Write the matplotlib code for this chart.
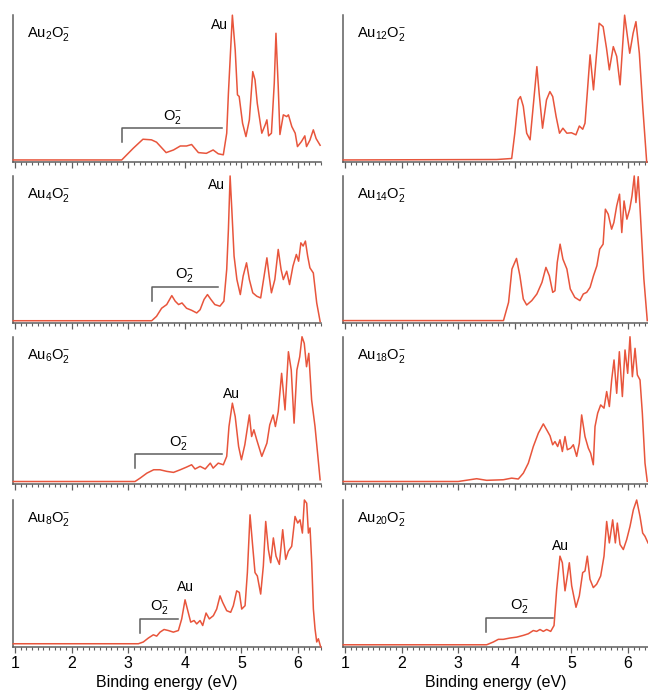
import matplotlib
matplotlib.use('Agg')
import matplotlib.pyplot as plt
from matplotlib.ticker import MultipleLocator

plt.rcParams['font.family'] = ['Liberation Sans', 'DejaVu Sans']
plt.rcParams['mathtext.fontset'] = 'custom'
plt.rcParams['mathtext.rm'] = 'Liberation Sans'
plt.rcParams['mathtext.it'] = 'Liberation Sans:italic'

# binding energy (eV) and normalised intensity
e_au2 = [0.97, 2.885, 3.09, 3.26, 3.41, 3.50, 3.67, 3.80, 3.92, 4.03, 4.12, 4.24, 4.38, 4.50, 4.59, 4.68,
         4.74, 4.77, 4.84, 4.89, 4.93, 4.96, 5.02, 5.08, 5.14, 5.20, 5.24, 5.28, 5.36, 5.42, 5.45, 5.48,
         5.53, 5.58, 5.61, 5.65, 5.68, 5.74, 5.80, 5.83, 5.89, 5.95, 5.99, 6.06, 6.12, 6.15, 6.21, 6.27,
         6.32, 6.39]
i_au2 = [0.015, 0.015, 0.095, 0.156, 0.152, 0.136, 0.065, 0.083, 0.11, 0.11, 0.12, 0.065, 0.06, 0.083,
         0.057, 0.05, 0.197, 0.469, 1.0, 0.764, 0.458, 0.447, 0.265, 0.174, 0.288, 0.616, 0.56, 0.40,
         0.197, 0.254, 0.288, 0.179, 0.197, 0.537, 0.877, 0.514, 0.188, 0.322, 0.31, 0.322, 0.242, 0.197,
         0.106, 0.14, 0.179, 0.106, 0.15, 0.22, 0.16, 0.115]

e_au4 = [0.97, 3.415, 3.50, 3.59, 3.68, 3.77, 3.83, 3.89, 3.95, 4.03, 4.12, 4.21, 4.27, 4.34, 4.40, 4.46,
         4.53, 4.62, 4.69, 4.74, 4.77, 4.80, 4.83, 4.87, 4.92, 4.98, 5.03, 5.09, 5.14, 5.20, 5.27, 5.34,
         5.40, 5.45, 5.49, 5.53, 5.59, 5.65, 5.70, 5.74, 5.80, 5.85, 5.91, 5.97, 6.01, 6.05, 6.09, 6.13,
         6.17, 6.21, 6.27, 6.33, 6.39]
i_au4 = [0.015, 0.015, 0.045, 0.10, 0.125, 0.186, 0.148, 0.125, 0.136, 0.10, 0.086, 0.068, 0.09, 0.16,
         0.193, 0.16, 0.125, 0.114, 0.148, 0.364, 0.636, 1.0, 0.773, 0.455, 0.295, 0.193, 0.318, 0.409,
         0.295, 0.205, 0.182, 0.17, 0.318, 0.443, 0.318, 0.205, 0.295, 0.50, 0.364, 0.295, 0.352, 0.261,
         0.386, 0.466, 0.42, 0.545, 0.523, 0.557, 0.455, 0.375, 0.34, 0.136, 0.01]

e_au6 = [0.97, 3.12, 3.21, 3.33, 3.45, 3.56, 3.68, 3.80, 3.92, 4.03, 4.12, 4.18, 4.27, 4.36, 4.45, 4.50,
         4.59, 4.68, 4.74, 4.78, 4.84, 4.89, 4.95, 5.00, 5.06, 5.14, 5.18, 5.22, 5.27, 5.36, 5.45, 5.50,
         5.56, 5.60, 5.65, 5.71, 5.77, 5.83, 5.88, 5.93, 5.98, 6.03, 6.07, 6.11, 6.15, 6.19, 6.24, 6.30,
         6.39]
i_au6 = [0.015, 0.015, 0.038, 0.072, 0.095, 0.095, 0.084, 0.077, 0.095, 0.113, 0.129, 0.10, 0.118, 0.10,
         0.14, 0.106, 0.14, 0.129, 0.186, 0.389, 0.548, 0.457, 0.253, 0.163, 0.265, 0.468, 0.321, 0.367,
         0.299, 0.186, 0.276, 0.40, 0.468, 0.389, 0.491, 0.751, 0.502, 0.898, 0.774, 0.412, 0.774, 0.864,
         1.0, 0.955, 0.796, 0.887, 0.57, 0.389, 0.027]

e_au8 = [0.97, 3.179, 3.267, 3.356, 3.444, 3.503, 3.562, 3.633, 3.709, 3.797, 3.886, 3.945, 4.004, 4.045,
         4.104, 4.163, 4.21, 4.269, 4.316, 4.375, 4.433, 4.504, 4.563, 4.622, 4.669, 4.74, 4.81, 4.857,
         4.916, 4.963, 5.005, 5.064, 5.105, 5.152, 5.199, 5.24, 5.281, 5.34, 5.387, 5.429, 5.476, 5.517,
         5.564, 5.611, 5.67, 5.729, 5.782, 5.829, 5.888, 5.947, 5.994, 6.035, 6.077, 6.112, 6.153, 6.183,
         6.212, 6.242, 6.271, 6.3, 6.33, 6.359, 6.4]
i_au8 = [0.022, 0.022, 0.034, 0.061, 0.083, 0.074, 0.101, 0.119, 0.112, 0.101, 0.112, 0.191, 0.321, 0.258,
         0.169, 0.18, 0.157, 0.18, 0.146, 0.231, 0.191, 0.213, 0.258, 0.348, 0.303, 0.247, 0.236, 0.281,
         0.382, 0.371, 0.258, 0.281, 0.506, 0.899, 0.685, 0.506, 0.483, 0.36, 0.551, 0.854, 0.663, 0.573,
         0.742, 0.618, 0.562, 0.798, 0.596, 0.652, 0.685, 0.888, 0.843, 0.865, 0.775, 1.0, 0.978, 0.775,
         0.81, 0.573, 0.258, 0.124, 0.034, 0.056, 0.0]

e_au12 = [0.97, 3.68, 3.945, 4.0, 4.06, 4.10, 4.15, 4.21, 4.27, 4.33, 4.39, 4.43, 4.49, 4.56, 4.62, 4.67,
          4.73, 4.79, 4.85, 4.92, 5.00, 5.08, 5.14, 5.20, 5.24, 5.28, 5.33, 5.39, 5.45, 5.49, 5.56, 5.62,
          5.67, 5.74, 5.80, 5.86, 5.90, 5.94, 5.99, 6.03, 6.09, 6.14, 6.20, 6.26, 6.33]
i_au12 = [0.015, 0.018, 0.025, 0.197, 0.424, 0.446, 0.38, 0.197, 0.152, 0.40, 0.65, 0.469, 0.231, 0.424,
          0.48, 0.446, 0.31, 0.197, 0.231, 0.197, 0.2, 0.186, 0.246, 0.224, 0.265, 0.469, 0.73, 0.492,
          0.764, 0.945, 0.922, 0.775, 0.628, 0.786, 0.72, 0.526, 0.764, 1.0, 0.854, 0.741, 0.877, 0.956,
          0.741, 0.378, 0.0]

e_au14 = [0.97, 3.80, 3.89, 3.95, 4.03, 4.09, 4.15, 4.21, 4.30, 4.39, 4.48, 4.55, 4.61, 4.67, 4.71, 4.75,
          4.80, 4.85, 4.92, 4.98, 5.06, 5.15, 5.21, 5.27, 5.33, 5.39, 5.45, 5.50, 5.56, 5.60, 5.65, 5.71,
          5.75, 5.80, 5.85, 5.89, 5.93, 5.98, 6.03, 6.07, 6.11, 6.14, 6.18, 6.22, 6.28, 6.34]
i_au14 = [0.016, 0.016, 0.14, 0.367, 0.439, 0.321, 0.163, 0.122, 0.152, 0.197, 0.276, 0.378, 0.321, 0.208,
          0.219, 0.412, 0.536, 0.434, 0.367, 0.231, 0.174, 0.152, 0.197, 0.208, 0.242, 0.321, 0.389, 0.502,
          0.536, 0.774, 0.74, 0.638, 0.683, 0.796, 0.876, 0.615, 0.83, 0.706, 0.774, 0.864, 1.0, 0.819,
          0.995, 0.728, 0.30, 0.016]

e_au18 = [0.97, 3.0, 3.326, 3.503, 3.797, 3.945, 4.062, 4.151, 4.239, 4.327, 4.416, 4.504, 4.563, 4.622,
          4.669, 4.71, 4.757, 4.798, 4.84, 4.887, 4.928, 4.987, 5.034, 5.093, 5.14, 5.181, 5.24, 5.299,
          5.34, 5.387, 5.417, 5.464, 5.517, 5.576, 5.623, 5.67, 5.711, 5.753, 5.8, 5.847, 5.9, 5.947,
          5.994, 6.035, 6.077, 6.124, 6.165, 6.212, 6.253, 6.3, 6.34]
i_au18 = [0.015, 0.015, 0.034, 0.023, 0.027, 0.038, 0.032, 0.072, 0.14, 0.253, 0.344, 0.407, 0.367, 0.326,
          0.265, 0.287, 0.253, 0.299, 0.219, 0.321, 0.231, 0.242, 0.265, 0.186, 0.276, 0.468, 0.321, 0.242,
          0.208, 0.129, 0.389, 0.48, 0.536, 0.514, 0.627, 0.525, 0.706, 0.842, 0.615, 0.898, 0.593, 0.91,
          0.751, 1.0, 0.728, 0.921, 0.74, 0.706, 0.48, 0.14, 0.016]

e_au20 = [0.97, 3.503, 3.621, 3.709, 3.797, 3.915, 4.033, 4.151, 4.239, 4.327, 4.386, 4.445, 4.504, 4.563,
          4.634, 4.693, 4.74, 4.798, 4.84, 4.887, 4.928, 4.963, 5.005, 5.081, 5.14, 5.199, 5.24, 5.281,
          5.328, 5.387, 5.446, 5.517, 5.576, 5.623, 5.67, 5.729, 5.776, 5.811, 5.859, 5.917, 5.976, 6.035,
          6.094, 6.153, 6.212, 6.259, 6.3, 6.353]
i_au20 = [0.015, 0.015, 0.034, 0.052, 0.052, 0.061, 0.067, 0.079, 0.09, 0.112, 0.106, 0.119, 0.106, 0.119,
          0.106, 0.146, 0.393, 0.618, 0.573, 0.382, 0.483, 0.573, 0.416, 0.27, 0.348, 0.506, 0.517, 0.618,
          0.461, 0.404, 0.427, 0.483, 0.618, 0.854, 0.708, 0.865, 0.708, 0.843, 0.697, 0.663, 0.73, 0.82,
          0.933, 1.0, 0.888, 0.775, 0.753, 0.708]

labels_left = [r'Au$_2$O$_2^{-}$', r'Au$_4$O$_2^{-}$', r'Au$_6$O$_2^{-}$', r'Au$_8$O$_2^{-}$']
labels_right = [r'Au$_{12}$O$_2^{-}$', r'Au$_{14}$O$_2^{-}$', r'Au$_{18}$O$_2^{-}$', r'Au$_{20}$O$_2^{-}$']

# "Au" peak label (x, y) and O2- bracket (x start, x end, y) for the panels that have them
au_marks = {'au2': (4.62, 0.93), 'au4': (4.56, 0.94), 'au6': (4.83, 0.61), 'au8': (4.02, 0.41), 'au20': (4.80, 0.69)}
o2_marks = {'au2': (2.89, 4.66, 0.23), 'au4': (3.415, 4.59, 0.243), 'au6': (3.12, 4.65, 0.20),
            'au8': (3.21, 3.885, 0.19), 'au20': (3.50, 4.67, 0.20)}

red = '#e8553c'
grey = '#5e5e5e'

fig = plt.figure(figsize=(6.48, 6.93), dpi=100)

bottoms = [0.766, 0.534, 0.302, 0.0664]
h = 0.2121
left_data = [('au2', e_au2, i_au2), ('au4', e_au4, i_au4), ('au6', e_au6, i_au6), ('au8', e_au8, i_au8)]
right_data = [('au12', e_au12, i_au12), ('au14', e_au14, i_au14), ('au18', e_au18, i_au18), ('au20', e_au20, i_au20)]

for col, (x0, w, xmax, data, labels) in enumerate([(0.0201, 0.4753, 6.406, left_data, labels_left),
                                                     (0.5293, 0.4707, 6.353, right_data, labels_right)]):
    for row in range(4):
        key, e, inten = data[row]
        ax = fig.add_axes([x0, bottoms[row], w, h])
        ax.plot(e, inten, color=red, lw=1.1, clip_on=False, zorder=3)
        ax.set_xlim(0.965, xmax)
        ax.set_ylim(0, 1.0)
        for s in ['top', 'right']:
            ax.spines[s].set_visible(False)
        for s in ['left', 'bottom']:
            ax.spines[s].set_color(grey)
            ax.spines[s].set_linewidth(1.1)
        ax.set_yticks([])
        ax.xaxis.set_major_locator(MultipleLocator(1))
        ax.xaxis.set_minor_locator(MultipleLocator(0.1))
        ax.tick_params(axis='x', which='major', direction='out', length=4.5, width=0.9, color=grey,
                       labelsize=11.5, pad=2)
        ax.tick_params(axis='x', which='minor', direction='out', length=2.5, width=0.8, color=grey)
        if row < 3:
            ax.tick_params(axis='x', labelbottom=False)
        else:
            ax.set_xlabel('Binding energy (eV)', fontsize=11.5, labelpad=3)
        ax.text(0.045, 0.87, labels[row], transform=ax.transAxes, fontsize=10.5, ha='left', va='center')
        if key in au_marks:
            ax.text(au_marks[key][0], au_marks[key][1], 'Au', fontsize=10, ha='center', va='center')
        if key in o2_marks:
            xa, xb, yb = o2_marks[key]
            ax.plot([xa, xa, xb], [yb - 0.095, yb, yb], color=grey, lw=1.1)
            ax.text((xa + xb) / 2, yb + 0.08, r'O$_2^{-}$', fontsize=10.5, ha='center', va='center')

fig.savefig('out.png', dpi=100)
